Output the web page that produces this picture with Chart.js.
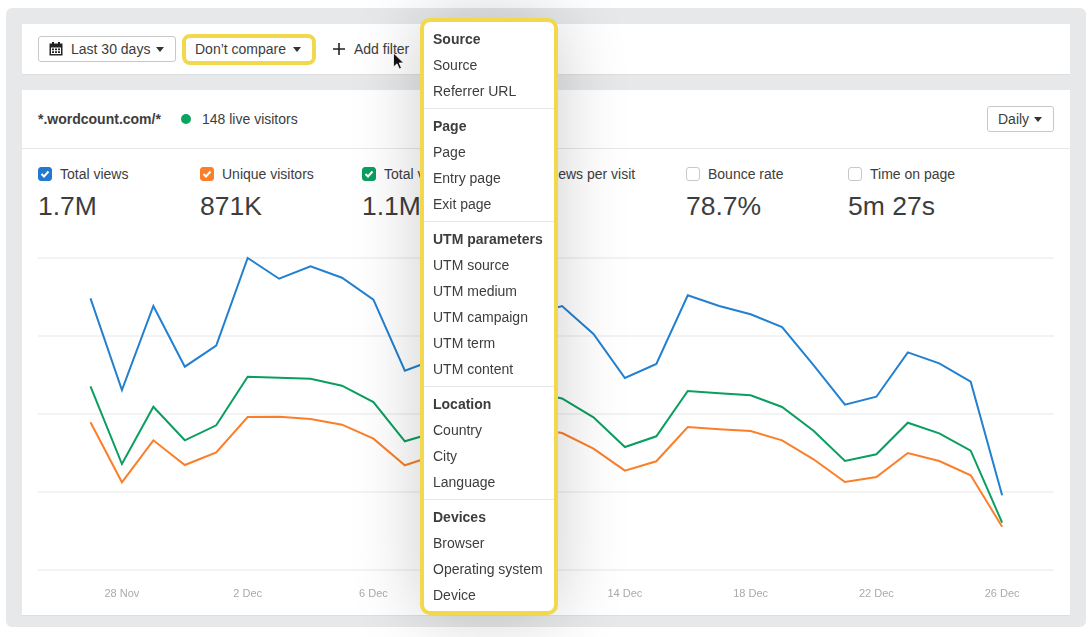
<!DOCTYPE html>
<html>
<head>
<meta charset="utf-8">
<script src="https://cdn.jsdelivr.net/npm/chart.js@4/dist/chart.umd.min.js"></script>
<style>
  html, body { margin: 0; padding: 0; background: #fff; }
  body { width: 1092px; height: 637px; position: relative; overflow: hidden; font-family: "Liberation Sans", sans-serif; font-size: 14px; color: #3d3d3d; }
  .abs { position: absolute; }
  #panel { left: 6px; top: 8px; width: 1080px; height: 619px; background: #e6e8ea; border-radius: 6px; }
  .card { background: #fff; left: 22px; width: 1048px; box-shadow: 0 1px 0 #dcdee0; }
  .btn { border: 1px solid #c8c8c8; border-radius: 3px; box-sizing: border-box; background: #fff; line-height: 24px; white-space: nowrap; }
  .caret { position: absolute; width: 0; height: 0; border-left: 4px solid transparent; border-right: 4px solid transparent; border-top: 5px solid #333; }
  .txt { position: absolute; white-space: nowrap; line-height: 16px; }
  .check { position: absolute; top: 167px; width: 14px; height: 14px; border-radius: 3px; box-sizing: border-box; border: 1px solid #c8c8c8; background: #fff; }
  .check svg { position: absolute; left: 0; top: 0; }
  .big { position: absolute; top: 190px; font-size: 26.500px; line-height: 32px; white-space: nowrap; }
  #chartBox { left: 22px; top: 240px; width: 1048px; height: 370px; }
  #menu { left: 420px; top: 18px; width: 138px; height: 597px; box-sizing: border-box; border: 4px solid #f1d84d; border-radius: 10px; background: #fff; padding-top: 4px; box-shadow: 0 0 70px rgba(0,0,0,.2); }
  #menu div { height: 26px; line-height: 26px; padding-left: 9px; white-space: nowrap; }
  #menu div.head { font-weight: bold; }
  #menu hr { margin: 4px 0 4px; border: 0; border-top: 1px solid #e6e6e6; height: 0; }
</style>
</head>
<body>
<div class="abs" id="panel"></div>

<div class="abs card" style="top:24px;height:50px"></div>
<div class="abs btn" style="left:38px;top:36px;width:138px;height:26px"></div>
<svg class="abs" style="left:49px;top:42px" width="14" height="14" viewBox="0 0 14 14">
  <path d="M0.500 1.500h13v12h-13z" fill="#222"/><rect x="3" y="0" width="2" height="3" fill="#222"/><rect x="9" y="0" width="2" height="3" fill="#222"/>
  <path d="M2 5.500h10v6.500H2z" fill="#fff"/>
  <path d="M3 6.500h2v1.700H3zM6 6.500h2v1.700H6zM9 6.500h2v1.700H9zM3 9.300h2V11H3zM6 9.300h2V11H6zM9 9.300h2V11H9z" fill="#222"/>
</svg>
<span class="txt" style="left:71px;top:41px">Last 30 days</span>
<span class="caret" style="left:156px;top:47px"></span>
<div class="abs" style="left:182px;top:34px;width:134px;height:31px;box-sizing:border-box;border:4px solid #f1d84d;border-radius:8px;background:#fff"></div>
<span class="txt" style="left:195px;top:41px">Don’t compare</span>
<span class="caret" style="left:293px;top:47px"></span>
<svg class="abs" style="left:332px;top:42px" width="14" height="14" viewBox="0 0 14 14"><path d="M6.200 1h1.600v12H6.200zM1 6.200h12v1.600H1z" fill="#222"/></svg>
<span class="txt" style="left:354px;top:41px">Add filter</span>

<div class="abs card" style="top:90px;height:525px"></div>
<div class="abs" style="left:22px;top:148px;width:1048px;height:1px;background:#e6e6e6"></div>
<span class="txt" style="left:38px;top:111px;font-weight:bold">*.wordcount.com/*</span>
<div class="abs" style="left:181px;top:114px;width:10px;height:10px;border-radius:50%;background:#0ba360"></div>
<span class="txt" style="left:202px;top:111px">148 live visitors</span>
<div class="abs btn" style="left:987px;top:106px;width:67px;height:26px"></div>
<span class="txt" style="left:998px;top:111px">Daily</span>
<span class="caret" style="left:1034px;top:117px"></span>

<div id="metrics"></div>

<div class="abs" id="chartBox"><canvas id="chart" width="1048" height="370"></canvas></div>

<div class="abs" id="menu"></div>

<svg class="abs" style="left:392px;top:52px" width="14" height="20" viewBox="0 0 14 20">
  <path d="M1.500 1v14l3.500-3.200 2.300 5.200 2.200-1-2.300-5h4.500z" fill="#111" stroke="#fff" stroke-width="0.800"/>
</svg>

<script>
const days = ["27 Nov", "28 Nov", "29 Nov", "30 Nov", "1 Dec", "2 Dec", "3 Dec", "4 Dec", "5 Dec", "6 Dec",
  "7 Dec", "8 Dec", "9 Dec", "10 Dec", "11 Dec", "12 Dec", "13 Dec", "14 Dec", "15 Dec", "16 Dec",
  "17 Dec", "18 Dec", "19 Dec", "20 Dec", "21 Dec", "22 Dec", "23 Dec", "24 Dec", "25 Dec", "26 Dec"];
const tickDays = ["28 Nov", "2 Dec", "6 Dec", "10 Dec", "14 Dec", "18 Dec", "22 Dec", "26 Dec"];
const gridValues = [0, 25000, 50000, 75000, 100000];

// no numbers on the y axis in the screenshot, the scale is only relative
const totalViews = [87080, 57690, 84610, 65160, 71890, 100000, 93360, 97340, 93680, 86630,
  63880, 67630, 73700, 78520, 81730, 84610, 75640, 61540, 66020, 88040,
  84610, 81950, 77880, 65700, 52980, 55540, 69770, 66250, 60350, 23940];
const uniqueVisitors = [47340, 28110, 41570, 33650, 37720, 49040, 49130, 48400, 46570, 42080,
  33560, 36860, 40060, 43270, 45510, 43910, 38880, 31830, 34840, 45830,
  45090, 44550, 41570, 35480, 28200, 29810, 37500, 34930, 30350, 13880];
const totalVisits = [58880, 33970, 52340, 41570, 46380, 61950, 61630, 61310, 59070, 53840,
  41250, 44230, 49680, 54480, 57050, 54970, 48940, 39420, 42850, 57370,
  56630, 55990, 52240, 44650, 34930, 37080, 47210, 43810, 38240, 15160];

const metricNames = ["Total views", "Unique visitors", "Total visits", "Views per visit", "Bounce rate", "Time on page"];
const metricValues = ["1.7M", "871K", "1.1M", "", "78.7%", "5m 27s"];
const metricColors = ["#2279cf", "#fb7e29", "#0a9e5f", null, null, null];

const menuGroups = [
  ["Source", "Source", "Referrer URL"],
  ["Page", "Page", "Entry page", "Exit page"],
  ["UTM parameters", "UTM source", "UTM medium", "UTM campaign", "UTM term", "UTM content"],
  ["Location", "Country", "City", "Language"],
  ["Devices", "Browser", "Operating system", "Device"],
];

// metric row above the chart
const metrics = document.getElementById("metrics");
metricNames.forEach((name, i) => {
  const x = 38 + i * 162;
  const color = metricColors[i];
  const tick = color ? `<svg width="12" height="12" viewBox="0 0 12 12"><path d="M2.500 6l2.500 2.500 4.500-5" fill="none" stroke="#fff" stroke-width="2"/></svg>` : "";
  const boxStyle = color ? `background:${color};border-color:${color};` : "";
  metrics.innerHTML += `<div class="check" style="left:${x}px;${boxStyle}">${tick}</div>`
    + `<span class="txt" style="left:${x + 22}px;top:166px">${name}</span>`
    + `<span class="big" style="left:${x}px">${metricValues[i]}</span>`;
});

// filter dropdown
const menu = document.getElementById("menu");
menuGroups.forEach((group, g) => {
  if (g > 0) menu.appendChild(document.createElement("hr"));
  group.forEach((label, i) => {
    const row = document.createElement("div");
    row.textContent = label;
    if (i === 0) row.className = "head";
    menu.appendChild(row);
  });
});

const lineStyle = color => ({
  borderColor: color,
  backgroundColor: color,
  borderWidth: 2,
  pointRadius: 0,
  tension: 0,
  fill: false,
  clip: false,
});
const toPoints = values => values.map((y, i) => ({ x: i, y }));

new Chart(document.getElementById("chart").getContext("2d"), {
  type: "line",
  data: {
    datasets: [
      { label: "Total views", data: toPoints(totalViews), ...lineStyle("#2280d0") },
      { label: "Total visits", data: toPoints(totalVisits), ...lineStyle("#0a9e5f") },
      { label: "Unique visitors", data: toPoints(uniqueVisitors), ...lineStyle("#fb7e29") },
    ],
  },
  options: {
    responsive: false,
    animation: false,
    layout: { padding: { left: 16, right: 16, top: 18, bottom: 0 } },
    plugins: { legend: { display: false }, tooltip: { enabled: false } },
    scales: {
      x: {
        type: "linear",
        min: -1.67,
        max: days.length - 1 + 1.65,
        grid: { display: false },
        border: { display: false },
        afterBuildTicks: axis => {
          axis.ticks = tickDays.map(d => ({ value: days.indexOf(d) }));
        },
        afterFit: axis => { axis.height = 40; },
        ticks: {
          autoSkip: false,
          maxRotation: 0,
          padding: 9,
          color: "#aaaaaa",
          font: { family: "Liberation Sans", size: 11 },
          callback: value => days[value],
        },
      },
      y: {
        min: 0,
        max: 100000,
        border: { display: false },
        afterBuildTicks: axis => {
          axis.ticks = gridValues.map(value => ({ value }));
        },
        afterFit: axis => { axis.width = 0; },
        grid: { color: "#f3f3f3", lineWidth: 2, drawTicks: false },
        ticks: { display: false },
      },
    },
  },
});
</script>
</body>
</html>
